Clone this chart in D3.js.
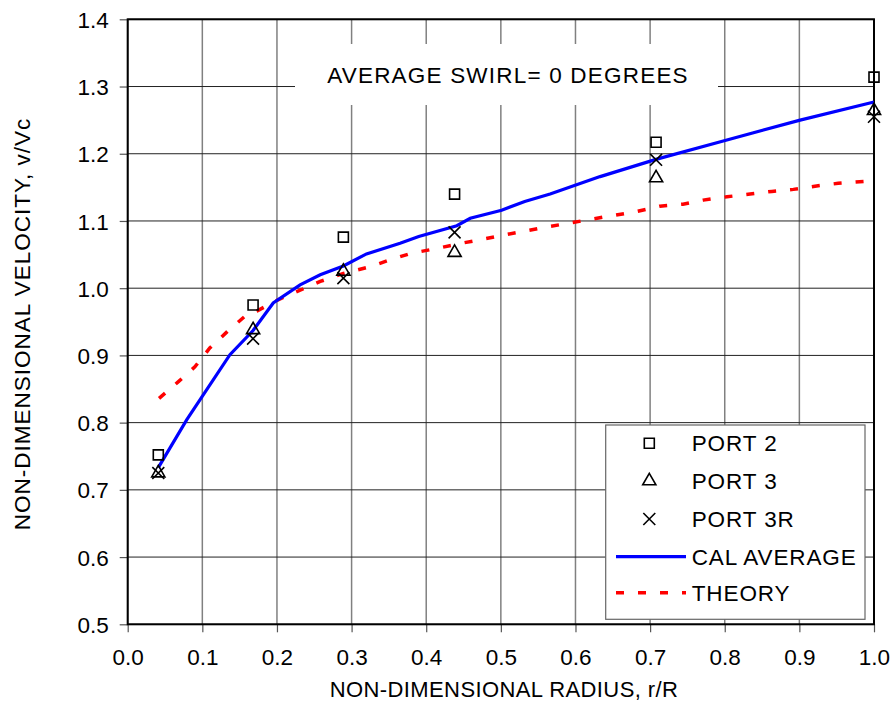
<!DOCTYPE html>
<html>
<head>
<meta charset="utf-8">
<script src="https://cdn.jsdelivr.net/npm/d3@7"></script>
<style>
  body { margin: 0; background: #fff; }
  text { font-family: "Liberation Sans", Arial, sans-serif; fill: #000; }
</style>
</head>
<body>
<div id="chart-container"></div>
<script>
// radius/velocity chart, port measurements vs calculated average and theory
const svgWidth = 892;
const svgHeight = 714;

// port measurement radii
const portRadius = [0.041, 0.168, 0.289, 0.438, 0.708, 1.0];
const port2 = [0.752, 0.975, 1.076, 1.140, 1.217, 1.314];
const port3 = [0.725, 0.938, 1.025, 1.053, 1.164, 1.264];
const port3R = [0.725, 0.925, 1.015, 1.083, 1.191, 1.255];

// cal average curve
const calR = [0.041, 0.079, 0.137, 0.168, 0.195, 0.231, 0.258, 0.289, 0.320, 0.365, 0.390,
              0.441, 0.459, 0.501, 0.532, 0.566, 0.633, 0.709, 0.798, 0.901, 1.0];
const calV = [0.733, 0.804, 0.901, 0.937, 0.978, 1.005, 1.020, 1.033, 1.051, 1.067, 1.077,
              1.093, 1.104, 1.116, 1.129, 1.140, 1.166, 1.192, 1.219, 1.250, 1.277];

// theory curve
const theoryR = [0.042, 0.068, 0.090, 0.110, 0.133, 0.159, 0.173, 0.200, 0.258, 0.289, 0.325,
                 0.351, 0.380, 0.414, 0.443, 0.472, 0.503, 0.532, 0.561, 0.593, 0.623, 0.682,
                 0.713, 0.744, 0.771, 0.803, 0.834, 0.863, 0.892, 0.923, 0.952, 0.988];
const theoryV = [0.836, 0.861, 0.883, 0.911, 0.935, 0.960, 0.966, 0.982, 1.010, 1.022, 1.032,
                 1.042, 1.052, 1.059, 1.066, 1.072, 1.079, 1.085, 1.091, 1.097, 1.103, 1.114,
                 1.122, 1.125, 1.131, 1.136, 1.140, 1.144, 1.147, 1.152, 1.156, 1.159];

const xTicks = [0.0, 0.1, 0.2, 0.3, 0.4, 0.5, 0.6, 0.7, 0.8, 0.9, 1.0];
const yTicks = [0.5, 0.6, 0.7, 0.8, 0.9, 1.0, 1.1, 1.2, 1.3, 1.4];

const legendNames = ["PORT 2", "PORT 3", "PORT 3R", "CAL AVERAGE", "THEORY"];

const plot = { left: 127.7, right: 874, top: 19.3, bottom: 624.3 };

const svg = d3.select("#chart-container")
    .append("svg")
    .attr("width", svgWidth)
    .attr("height", svgHeight);

const x = d3.scaleLinear().domain([0, 1]).range([plot.left, plot.right]);
const y = d3.scaleLinear().domain([0.5, 1.4]).range([plot.bottom, plot.top]);

// grid
svg.append("g").selectAll("line")
    .data(xTicks)
    .enter().append("line")
    .attr("x1", d => x(d)).attr("x2", d => x(d))
    .attr("y1", plot.top).attr("y2", plot.bottom)
    .attr("stroke", "#808080").attr("stroke-width", 1.5);

svg.append("g").selectAll("line")
    .data(yTicks)
    .enter().append("line")
    .attr("x1", plot.left).attr("x2", plot.right)
    .attr("y1", d => y(d)).attr("y2", d => y(d))
    .attr("stroke", "#222").attr("stroke-width", 1);

// axes
const xAxis = svg.append("g")
    .attr("transform", `translate(0,${plot.bottom})`)
    .call(d3.axisBottom(x).tickValues(xTicks).tickFormat(d3.format(".1f")).tickSize(8).tickPadding(17));
const yAxis = svg.append("g")
    .attr("transform", `translate(${plot.left},0)`)
    .call(d3.axisLeft(y).tickValues(yTicks).tickFormat(d3.format(".1f")).tickSize(8).tickPadding(11));

[xAxis, yAxis].forEach(a => {
    a.select(".domain").remove();
    a.selectAll(".tick line").attr("stroke", "#555").attr("stroke-width", 1.2);
    a.selectAll(".tick text")
        .style("font-family", "'Liberation Sans', Arial, sans-serif")
        .style("font-size", "22.5px")
        .attr("fill", "#000");
});
yAxis.selectAll(".tick text").attr("dy", "0.36em");

// frame
svg.append("rect")
    .attr("x", plot.left).attr("y", plot.top)
    .attr("width", plot.right - plot.left).attr("height", plot.bottom - plot.top)
    .attr("fill", "none").attr("stroke", "#000").attr("stroke-width", 2);

// title box
svg.append("rect")
    .attr("x", 295).attr("y", 44).attr("width", 423).attr("height", 61)
    .attr("fill", "#fff");
svg.append("text")
    .text("AVERAGE SWIRL= 0 DEGREES")
    .attr("x", 508).attr("y", 83)
    .attr("text-anchor", "middle")
    .style("font-size", "22.5px")
    .style("letter-spacing", "1.2px");

// lines
const line = d3.line().x(d => x(d[0])).y(d => y(d[1]));

svg.append("path")
    .datum(theoryR.map((r, i) => [r, theoryV[i]]))
    .attr("d", line)
    .attr("fill", "none").attr("stroke", "#ff0000")
    .attr("stroke-width", 3.5).attr("stroke-dasharray", "8,14");

svg.append("path")
    .datum(calR.map((r, i) => [r, calV[i]]))
    .attr("d", line)
    .attr("fill", "none").attr("stroke", "#0000ff")
    .attr("stroke-width", 3.2);

// markers
const sq = d3.symbol().type(d3.symbolSquare).size(100);
const tri = d3.symbol().type(d3.symbolTriangle).size(75);
const cross = d3.symbol().type(d3.symbolX).size(95);

function drawMarkers(vals, sym) {
    svg.append("g").selectAll("path")
        .data(vals)
        .enter().append("path")
        .attr("d", sym)
        .attr("transform", (d, i) => `translate(${x(portRadius[i])},${y(d)})`)
        .attr("fill", "none").attr("stroke", "#000").attr("stroke-width", 1.6);
}
drawMarkers(port2, sq);
drawMarkers(port3, tri);
drawMarkers(port3R, cross);

// legend
const lg = svg.append("g");
lg.append("rect")
    .attr("x", 605.7).attr("y", 425).attr("width", 259.3).attr("height", 194.3)
    .attr("fill", "#fff").attr("stroke", "#666").attr("stroke-width", 1.2);

const rowY = [443.3, 481, 519, 556.7, 592.7];
const syms = [sq, tri, cross];
syms.forEach((s, i) => {
    lg.append("path")
        .attr("d", s)
        .attr("transform", `translate(649.3,${rowY[i]})`)
        .attr("fill", "none").attr("stroke", "#000").attr("stroke-width", 1.6);
});
lg.append("line")
    .attr("x1", 616).attr("x2", 686).attr("y1", rowY[3]).attr("y2", rowY[3])
    .attr("stroke", "#0000ff").attr("stroke-width", 3.2);
lg.append("line")
    .attr("x1", 616).attr("x2", 686).attr("y1", rowY[4]).attr("y2", rowY[4])
    .attr("stroke", "#ff0000").attr("stroke-width", 3.5).attr("stroke-dasharray", "8,14");

lg.selectAll(".lab")
    .data(legendNames)
    .enter().append("text")
    .attr("class", "lab")
    .text(d => d)
    .attr("x", 691.7)
    .attr("y", (d, i) => rowY[i] + 8)
    .style("font-size", "22.5px")
    .style("letter-spacing", "0.9px");

// axis titles
svg.append("text")
    .text("NON-DIMENSIONAL RADIUS, r/R")
    .attr("x", 504).attr("y", 697)
    .attr("text-anchor", "middle")
    .style("font-size", "22px")
    .style("letter-spacing", "0.4px");

svg.append("text")
    .text("NON-DIMENSIONAL VELOCITY, v/Vc")
    .attr("transform", "translate(30,324) rotate(-90)")
    .attr("text-anchor", "middle")
    .style("font-size", "22.5px")
    .style("letter-spacing", "1px");
</script>
</body>
</html>
